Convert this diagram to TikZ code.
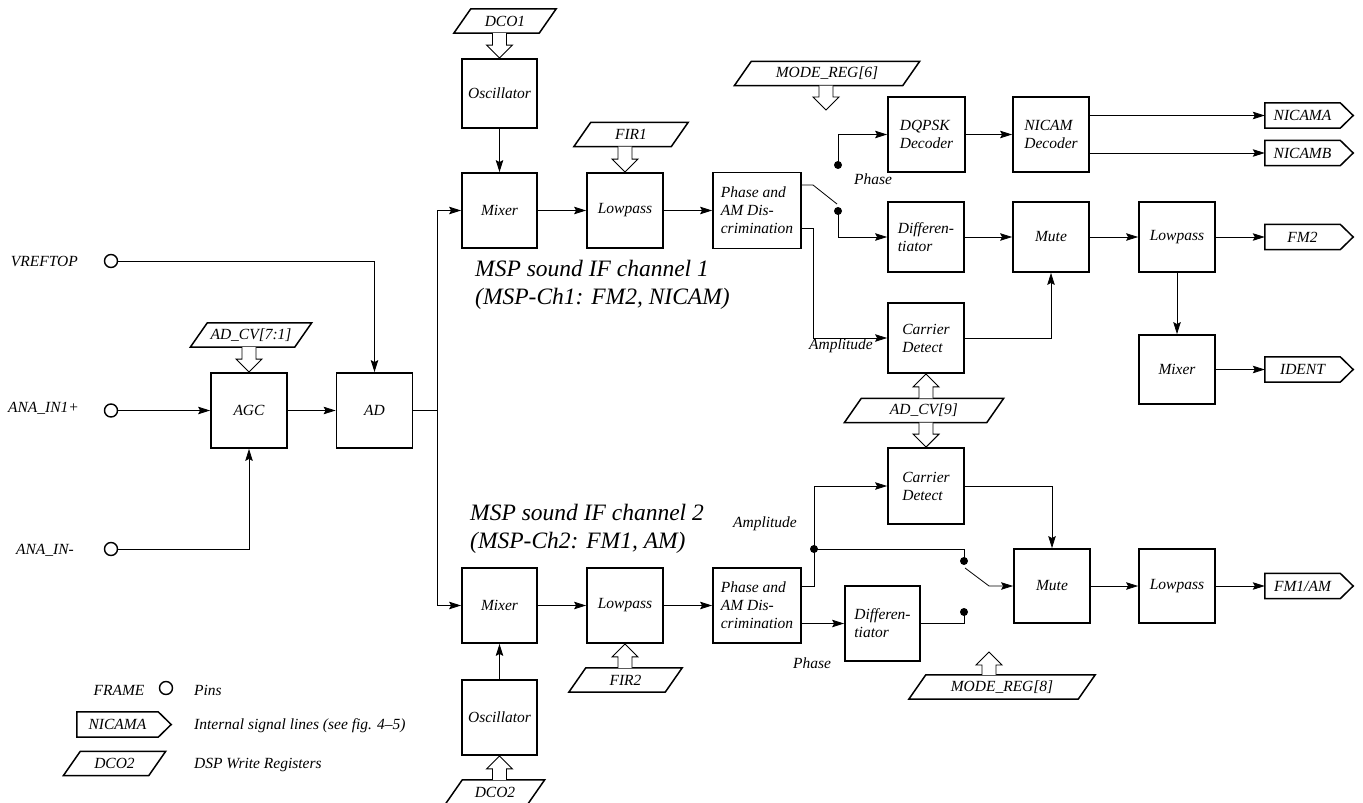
\documentclass[tikz,border=0pt]{standalone}
\usepackage{fontspec}
\setmainfont{Liberation Serif}
\usetikzlibrary{arrows.meta,calc}
\newcommand\regnode[4]{%
  \node[reg, minimum width=#3] (#1) at (#2) {#4};
  \draw[regline] ([xshift=-8.5pt]#1.south west) -- ([xshift=-8.5pt]#1.south east) -- ([xshift=8.5pt]#1.north east) -- ([xshift=8.5pt]#1.north west) -- cycle;}
\newcommand\tagnode[4]{%
  \node[tagn, minimum width=#3] (#1) at (#2) {#4};
  \draw[regline] (#1.north west) -- (#1.north east) -- ([xshift=13pt]#1.east) -- (#1.south east) -- (#1.south west) -- cycle;}
\newcommand\harrdown[2]{%
  \draw[hollow] let \p1=#1, \p2=#2 in (\x1-7pt,\y1) -- (\x2-7pt,\y2+13pt) -- (\x2-13pt,\y2+13pt) -- (\x2,\y2) -- (\x2+13pt,\y2+13pt) -- (\x2+7pt,\y2+13pt) -- (\x1+7pt,\y1);}
\newcommand\harrup[2]{%
  \draw[hollow] let \p1=#1, \p2=#2 in (\x1-7pt,\y1) -- (\x2-7pt,\y2-13pt) -- (\x2-13pt,\y2-13pt) -- (\x2,\y2) -- (\x2+13pt,\y2-13pt) -- (\x2+7pt,\y2-13pt) -- (\x1+7pt,\y1);}
\begin{document}
\begin{tikzpicture}[x=1pt,y=-1pt,
  every node/.style={font=\fontsize{15.5}{18}\selectfont\itshape},
  blk/.style={draw, line width=1.8pt, minimum width=76pt, minimum height=75pt, inner sep=2pt, align=left},
  conn/.style={line width=0.8pt},
  arr/.style={conn, -{Stealth[length=12pt,width=7.5pt,inset=2pt]}},
  pin/.style={circle, draw, line width=1.4pt, minimum size=13pt, inner sep=0pt},
  dot/.style={circle, fill, minimum size=8pt, inner sep=0pt},
  reg/.style={minimum height=24pt, inner sep=0pt},
  regline/.style={line width=1.5pt, line join=miter},
  hollow/.style={line width=0.9pt, fill=white},
  tagn/.style={minimum height=25pt, inner sep=0pt},
  title/.style={font=\fontsize{23.5}{28}\selectfont\itshape, inner sep=0pt, anchor=base west},
  lbl/.style={inner sep=0pt}
]
\useasboundingbox (0,0) rectangle (1363,803);

% ---- pins (left)
\node[pin] (vref) at (111,261) {};
\node[pin] (in1) at (111,410.5) {};
\node[pin] (inm) at (111,549) {};
\node[lbl, anchor=east] (lvref) at (78,261) {VREFTOP};
\node[lbl, anchor=east] (lin1) at (79,408) {ANA\_IN1+};
\node[lbl, anchor=east] (linm) at (74,550) {ANA\_IN-};

% ---- blocks
\node[blk] (agc) at (249,410.5) {AGC};
\node[blk] (ad) at (374.5,410.5) {AD};
\regnode{adcv71}{251,335}{104pt}{AD\_CV[7:1]}

\node[blk, minimum width=75pt, minimum height=69pt] (osc1) at (499.5,93.5) {Oscillator};
\node[blk, minimum width=75pt] (mix1) at (499.5,210.5) {Mixer};
\node[blk] (lp1) at (625,210.5) {Lowpass};
\node[blk, minimum width=88pt, minimum height=76pt] (pad1) at (757,210.5) {Phase and\\AM Dis-\\crimination};
\node[blk, minimum width=77pt] (dqpsk) at (926.5,134.5) {DQPSK\\Decoder};
\node[blk] (nicam) at (1051,134.5) {NICAM\\Decoder};
\node[blk, minimum height=70pt] (diff1) at (926,237) {Differen-\\tiator};
\node[blk, minimum height=70pt] (mute1) at (1051,237) {Mute};
\node[blk, minimum height=70pt] (lp3) at (1177,237) {Lowpass};
\node[blk, minimum height=69pt] (mixr) at (1177,369.5) {Mixer};
\node[blk, minimum height=70pt] (cd1) at (926,338) {Carrier\\Detect};
\node[blk, minimum height=76pt] (cd2) at (926,486) {Carrier\\Detect};
\node[blk, minimum height=74pt] (mute2) at (1052,586) {Mute};
\node[blk, minimum height=74pt] (lp4) at (1177,586) {Lowpass};

\node[blk, minimum width=75pt] (mix2) at (499.5,605.5) {Mixer};
\node[blk] (lp2) at (625,605.5) {Lowpass};
\node[blk, minimum width=88pt] (pad2) at (757,605.5) {Phase and\\AM Dis-\\crimination};
\node[blk, minimum width=75pt] (diff2) at (882.5,623.5) {Differen-\\tiator};
\node[blk, minimum width=75pt] (osc2) at (499.5,717.5) {Oscillator};

% ---- registers
\regnode{dco1}{505,21}{85pt}{DCO1}
\regnode{fir1}{631,134.5}{97pt}{FIR1}
\regnode{mr6}{827,73.5}{168pt}{MODE\_REG[6]}
\regnode{adcv9}{924,410.5}{142pt}{AD\_CV[9]}
\regnode{fir2}{625.5,680}{96pt}{FIR2}
\regnode{mr8}{1002,687}{169pt}{MODE\_REG[8]}
\regnode{dco2}{495,792}{82pt}{DCO2}

% ---- output tags
\tagnode{nicama}{1302.5,115.5}{75pt}{NICAMA}
\tagnode{nicamb}{1302.5,153}{75pt}{NICAMB}
\tagnode{fm2}{1302.5,237}{75pt}{FM2}
\tagnode{ident}{1302.5,369.5}{75pt}{IDENT}
\tagnode{fm1am}{1302.5,586}{75pt}{FM1/AM}

% ---- titles
\node[title] (t1a) at (475,276) {MSP sound IF channel 1};
\node[title] (t1b) at (475,304) {(MSP-Ch1: FM2, NICAM)};
\node[title] (t2a) at (470,520) {MSP sound IF channel 2};
\node[title] (t2b) at (470,548) {(MSP-Ch2: FM1, AM)};

% ---- left connections
\draw[arr] (vref.east) -| (ad.north);
\draw[arr] (in1.east) -- (agc.west);
\draw[arr] (inm.east) -| (agc.south);
\draw[arr] (agc) -- (ad);
\coordinate (bus) at (437,410.5);
\draw[conn] (ad.east) -- (bus);
\draw[arr] (bus) |- (mix1.west);
\draw[arr] (bus) |- (mix2.west);
\harrdown{(adcv71.south -| agc.north)}{(agc.north)}

% ---- channel 1
\draw[arr] (osc1) -- (mix1);
\draw[arr] (mix1) -- (lp1);
\draw[arr] (lp1) -- (pad1);
\harrdown{(dco1.south -| osc1.north)}{(osc1.north)}
\harrdown{(fir1.south -| lp1.north)}{(lp1.north)}
\coordinate (m6tip) at (826,110);
\harrdown{(mr6.south -| m6tip)}{(m6tip)}

\coordinate (s1a) at (813,185);
\coordinate (s1e) at (837,204);
\node[dot] (s1p) at (838,165) {};
\node[dot] (s1d) at (838,211) {};
\draw[conn] (pad1.east |- s1a) -- (s1a) -- (s1e);
\draw[arr] (s1p.center) |- (dqpsk.west);
\draw[arr] (s1d.center) |- (diff1.west);
\coordinate (a1) at (813,228);
\draw[arr] (pad1.east |- a1) -- (a1) |- (cd1.west);
\node[lbl] (ph1) at (873,179) {Phase};
\node[lbl] (amp1) at (841,346) {Amplitude};

\draw[arr] (dqpsk) -- (nicam);
\draw[arr] (nicama.west -| nicam.east) -- (nicama.west);
\draw[arr] (nicamb.west -| nicam.east) -- (nicamb.west);
\draw[arr] (diff1) -- (mute1);
\draw[arr] (mute1) -- (lp3);
\draw[arr] (lp3.east) -- (fm2.west);
\draw[arr] (lp3) -- (mixr);
\draw[arr] (mixr.east) -- (ident.west);
\draw[arr] (cd1.east) -| (mute1.south);
\harrup{(adcv9.north -| cd1.south)}{(cd1.south)}
\harrdown{(adcv9.south -| cd2.north)}{(cd2.north)}

% ---- channel 2
\draw[arr] (osc2) -- (mix2);
\draw[arr] (mix2) -- (lp2);
\draw[arr] (lp2) -- (pad2);
\harrup{(fir2.north -| lp2.south)}{(lp2.south)}
\harrup{(dco2.north -| osc2.south)}{(osc2.south)}

\node[dot] (j2) at (814,549) {};
\coordinate (a2) at (814,586);
\draw[conn] (pad2.east |- a2) -- (a2) -- (j2.center);
\draw[arr] (j2.center) |- (cd2.west);
\node[dot] (s2a) at (964,561) {};
\node[dot] (s2b) at (964,612) {};
\draw[conn] (j2.center) -| (s2a.center);
\coordinate (s2s) at (965,568);
\coordinate (s2k) at (989,586);
\draw[arr] (s2s) -- (s2k) -- (mute2.west);
\draw[conn] (diff2.east) -| (s2b.center);
\draw[arr] (pad2.east |- diff2.west) -- (diff2.west);
\draw[arr] (cd2.east) -| (mute2.north);
\draw[arr] (mute2) -- (lp4);
\draw[arr] (lp4.east) -- (fm1am.west);
\coordinate (m8tip) at (989,652);
\harrup{(mr8.north -| m8tip)}{(m8tip)}
\node[lbl] (amp2) at (765,524) {Amplitude};
\node[lbl] (ph2) at (812,663) {Phase};

% ---- legend
\node[lbl] (lframe) at (119,690) {FRAME};
\node[pin] (lpin) at (166,688) {};
\node[lbl, anchor=west] (lpins) at (194,690) {Pins};
\tagnode{lnicama}{117.5,724.5}{81pt}{NICAMA}
\node[lbl, anchor=west] (lint) at (194,726) {Internal signal lines (see fig. 4--5)};
\regnode{ldco2}{114.5,763.5}{85pt}{DCO2}
\node[lbl, anchor=west] (ldsp) at (194,765) {DSP Write Registers};
\end{tikzpicture}
\end{document}
